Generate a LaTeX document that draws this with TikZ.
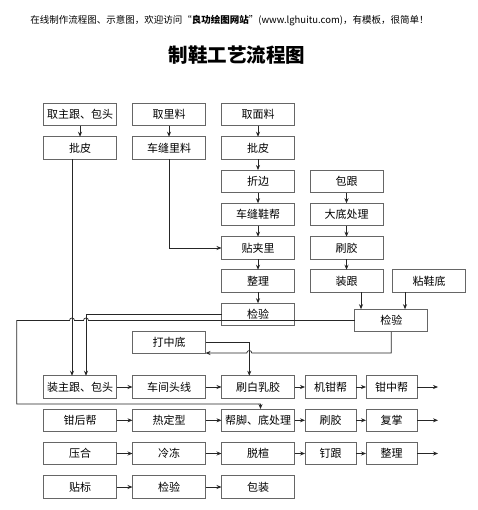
\documentclass[tikz,border=0pt]{standalone}
\usepackage{fontspec}
\setmainfont{Noto Sans CJK SC}
\usetikzlibrary{arrows.meta,positioning}

\begin{document}
\begin{tikzpicture}[x=1pt,y=-1pt,
		box/.style={draw=black!60,line width=0.9pt,minimum width=73pt,minimum height=22.5pt,inner sep=0pt,outer sep=0pt,font=\fontsize{11}{13}\selectfont},
		smallbox/.style={box,minimum width=51pt},
		link/.style={draw=black!85,line width=0.7pt,-{Stealth[length=5pt,width=4pt]}},
		plain/.style={draw=black!85,line width=0.7pt}]
		\useasboundingbox (0,0) rectangle (477,510);
		% title lines
		\node (note) at (229.5,20.7) {\fontsize{9.5}{11}\selectfont 在线制作流程图、示意图，欢迎访问“\textbf{良功绘图网站}”(www.lghuitu.com)，有模板，很简单！};
		\node (title) at (237,55) {\fontsize{19.5}{22}\selectfont\bfseries 制鞋工艺流程图};
		% upper part
		\node[box] (qzg) at (80,114.5) {取主跟、包头};
		\node[box] (pp1) at (80,148) {批皮};
		\node[box] (qll) at (169,114.5) {取里料};
		\node[box] (cfl) at (169,148) {车缝里料};
		\node[box] (qml) at (258,114.5) {取面料};
		\node[box] (pp2) at (258,148) {批皮};
		\node[box] (zb) at (258,181.3) {折边};
		\node[box] (cfx) at (258,214.5) {车缝鞋帮};
		\node[box] (tjl) at (258,248) {贴夹里};
		\node[box] (zl1) at (258,281) {整理};
		\node[box] (jy1) at (258,314.5) {检验};
		\node[box] (bg) at (346.5,181.3) {包跟};
		\node[box] (ddcl) at (346.5,214.5) {大底处理};
		\node[box] (sj1) at (346.5,248) {刷胶};
		\node[box] (zg) at (346.5,281) {装跟};
		\node[box] (nxd) at (429,281) {粘鞋底};
		\node[box] (jy2) at (391.3,320.5) {检验};
		\node[box] (dzd) at (169,342.2) {打中底};
		% lower rows
		\node[box] (zzg) at (80,387) {装主跟、包头};
		\node[box] (cjtx) at (169,387) {车间头线};
		\node[box] (sbrj) at (258,387) {刷白乳胶};
		\node[smallbox] (jqb) at (330.5,387) {机钳帮};
		\node[smallbox] (qzb) at (391.5,387) {钳中帮};
		\node[box] (qhb) at (80,420.3) {钳后帮};
		\node[box] (rdx) at (169,420.3) {热定型};
		\node[box] (bjd) at (258,420.3) {帮脚、底处理};
		\node[smallbox] (sj2) at (330.5,420.3) {刷胶};
		\node[smallbox] (fz) at (391.5,420.3) {复掌};
		\node[box] (yh) at (80,453.5) {压合};
		\node[box] (ld) at (169,453.5) {冷冻};
		\node[box] (tx) at (258,453.5) {脱楦};
		\node[smallbox] (dg) at (330.5,453.5) {钉跟};
		\node[smallbox] (zl2) at (391.5,453.5) {整理};
		\node[box] (tb) at (80,487) {贴标};
		\node[box] (jy3) at (169,487) {检验};
		\node[box] (bz) at (258,487) {包装};
		\coordinate (end1) at (438,387);
		\coordinate (end2) at (438,420.3);
		\coordinate (end3) at (438,453.5);
		% vertical chains
		\draw[link] (qzg.south) -- (pp1.north);
		\draw[link] (qll.south) -- (cfl.north);
		\draw[link] (qml.south) -- (pp2.north);
		\draw[link] (pp2.south) -- (zb.north);
		\draw[link] (zb.south) -- (cfx.north);
		\draw[link] (cfx.south) -- (tjl.north);
		\draw[link] (tjl.south) -- (zl1.north);
		\draw[link] (zl1.south) -- (jy1.north);
		\draw[link] (bg.south) -- (ddcl.north);
		\draw[link] (ddcl.south) -- (sj1.north);
		\draw[link] (sj1.south) -- (zg.north);
		\draw[link] ([xshift=14.5pt]zg.south) -- ([xshift=-30.3pt]jy2.north);
		\draw[link] ([xshift=-24pt]nxd.south) -- ([xshift=13.7pt]jy2.north);
		\draw[link] (cfl.south) |- (tjl.west);
		% to the lower rows
		\draw[link] ([xshift=-8pt]pp1.south) -- ([xshift=-8pt]zzg.north);
		\draw[link] (jy1.west) -| ([xshift=6pt]zzg.north);
		\draw[link] (jy2.west) -- (88.5,320.5) arc[start angle=0,end angle=180,radius=2.5pt] -- (74.5,320.5) arc[start angle=0,end angle=180,radius=2.5pt] -- (16.7,320.5) -- (16.7,404) -| ([xshift=2.5pt]bjd.north);
		\draw[link] (jy2.south) |- (251.8,353) arc[start angle=0,end angle=180,radius=2.5pt] -- (dzd.east |- 0,353);
		\draw[link] (dzd.east) -| ([xshift=-8.7pt]sbrj.north);
		% rows
		\draw[link] (zzg.east) -- (cjtx.west);
		\draw[link] (cjtx.east) -- (sbrj.west);
		\draw[link] (sbrj.east) -- (jqb.west);
		\draw[link] (jqb.east) -- (qzb.west);
		\draw[link] (qzb.east) -- (end1);
		\draw[link] (qhb.east) -- (rdx.west);
		\draw[link] (rdx.east) -- (bjd.west);
		\draw[link] (bjd.east) -- (sj2.west);
		\draw[link] (sj2.east) -- (fz.west);
		\draw[link] (fz.east) -- (end2);
		\draw[link] (yh.east) -- (ld.west);
		\draw[link] (ld.east) -- (tx.west);
		\draw[link] (tx.east) -- (dg.west);
		\draw[link] (dg.east) -- (zl2.west);
		\draw[link] (zl2.east) -- (end3);
		\draw[link] (tb.east) -- (jy3.west);
		\draw[link] (jy3.east) -- (bz.west);
\end{tikzpicture}
\end{document}
